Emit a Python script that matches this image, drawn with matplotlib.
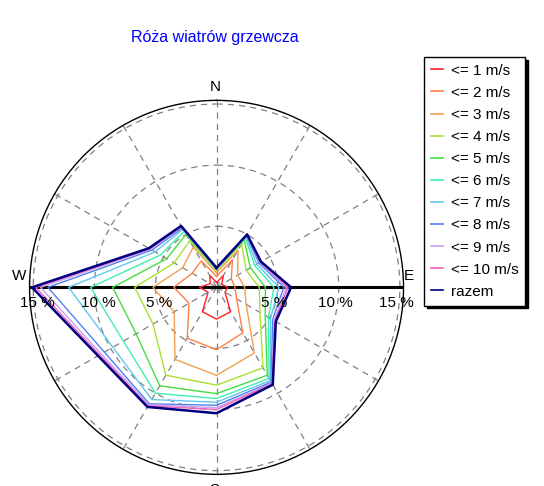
import numpy as np
import matplotlib
matplotlib.use('Agg')
import matplotlib.pyplot as plt
import matplotlib.transforms as mtransforms

plt.rcParams['font.family'] = ['Liberation Sans', 'DejaVu Sans']

# kierunki co 30 stopni (0 = N, zgodnie z ruchem wskazowek)
directions = [0, 30, 60, 90, 120, 150, 180, 210, 240, 270, 300, 330]

labels = ['<= 1 m/s', '<= 2 m/s', '<= 3 m/s', '<= 4 m/s', '<= 5 m/s', '<= 6 m/s',
          '<= 7 m/s', '<= 8 m/s', '<= 9 m/s', '<= 10 m/s', 'razem']

# czestosc skumulowana [%]
v1 = [0.4, 1.1, 0.5, 0.9, 0.8, 2.3, 2.6, 2.3, 0.8, 1.4, 0.6, 1.1]
v2 = [0.9, 2.6, 1.4, 1.5, 1.9, 4.3, 5.1, 4.8, 2.6, 3.5, 2.3, 2.5]
v3 = [1.2, 3.5, 2.0, 2.3, 2.8, 6.2, 7.2, 6.8, 4.0, 5.2, 3.2, 3.8]
v4 = [1.4, 4.1, 2.8, 3.5, 4.1, 7.6, 8.0, 8.3, 6.0, 6.7, 4.0, 4.4]
v5 = [1.45, 4.5, 3.2, 4.0, 4.6, 8.3, 8.7, 9.3, 7.6, 8.5, 4.7, 5.0]
v6 = [1.5, 4.7, 3.6, 4.7, 4.9, 8.6, 9.1, 10.0, 8.8, 10.3, 5.3, 5.3]
v7 = [1.5, 4.8, 3.8, 5.1, 5.1, 8.8, 9.4, 10.6, 9.8, 12.1, 5.8, 5.5]
v8 = [1.55, 4.9, 4.0, 5.5, 5.3, 8.95, 9.65, 11.0, 10.6, 13.8, 6.1, 5.6]
v9 = [1.55, 4.95, 4.1, 5.7, 5.45, 9.05, 9.85, 11.1, 10.9, 14.4, 6.25, 5.7]
v10 = [1.6, 5.0, 4.15, 5.85, 5.5, 9.1, 10.0, 11.2, 11.05, 14.8, 6.3, 5.75]
total = [1.6, 5.0, 4.2, 6.1, 5.6, 9.2, 10.3, 11.3, 11.2, 15.1, 6.4, 5.8]

series = [v1, v2, v3, v4, v5, v6, v7, v8, v9, v10, total]
colors = ['#ff2020', '#ff8040', '#f0a050', '#a8e030', '#40e040', '#40f0b0',
          '#60c8f0', '#5080f0', '#c8a0f0', '#f060c0', '#000080']

pct_ticks = [5, 10, 15]

fig = plt.figure(figsize=(5.44, 4.86), dpi=100)
ax = fig.add_axes([0.0543, 0.024, 0.6875, 0.7695], projection='polar')
ax.set_theta_zero_location('N')
ax.set_theta_direction(-1)
ax.set_ylim(0, 15.3)

ax.set_thetagrids(range(0, 360, 30), labels=[''] * 12)
ax.set_rgrids(pct_ticks, labels=[''] * len(pct_ticks))
ax.grid(True, color='#808080', linestyle=(0, (5, 4)), linewidth=0.9)
ax.spines['polar'].set_color('black')
ax.spines['polar'].set_linewidth(1.0)

# os W-E
ax.plot([np.radians(270), 0, np.radians(90)], [15.3, 0, 15.3], color='black', lw=2.2, zorder=2)

theta = np.radians(directions + [directions[0]])
for vals, lab, col in zip(series, labels, colors):
    r = list(vals) + [vals[0]]
    lw = 1.8 if lab == 'razem' else 1.0
    ax.plot(theta, r, color=col, lw=lw, label=lab, zorder=3)

# etykiety procentowe pod osia W-E
off = mtransforms.offset_copy(ax.transData, fig=fig, x=0, y=-16, units='dots')
for p in pct_ticks:
    for ang in (90, 270):
        ax.text(np.radians(ang), p - 0.3, f'{p} %', transform=off, ha='center',
                va='center', fontsize=11, zorder=4)

fig.text(0.395, 0.82, 'N', ha='center', va='center', fontsize=11)
fig.text(0.035, 0.432, 'W', ha='center', va='center', fontsize=11)
fig.text(0.752, 0.432, 'E', ha='center', va='center', fontsize=11)
fig.text(0.395, 0.006, 'S', ha='center', va='top', fontsize=11)

fig.text(0.395, 0.922, 'Róża wiatrów grzewcza', color='#0000ff', ha='center',
         va='center', fontsize=11.5)

leg = ax.legend(loc='upper left', bbox_to_anchor=(0.779, 0.883),
                bbox_transform=fig.transFigure, borderaxespad=0, fontsize=11,
                handlelength=0.8, handletextpad=0.5, labelspacing=0.53,
                borderpad=0.45, fancybox=False, edgecolor='black',
                shadow={'color': 'black', 'alpha': 1})
leg.get_frame().set_linewidth(1.0)
for line in leg.get_lines():
    line.set_linewidth(1.2)

fig.savefig('out.png', dpi=100)
